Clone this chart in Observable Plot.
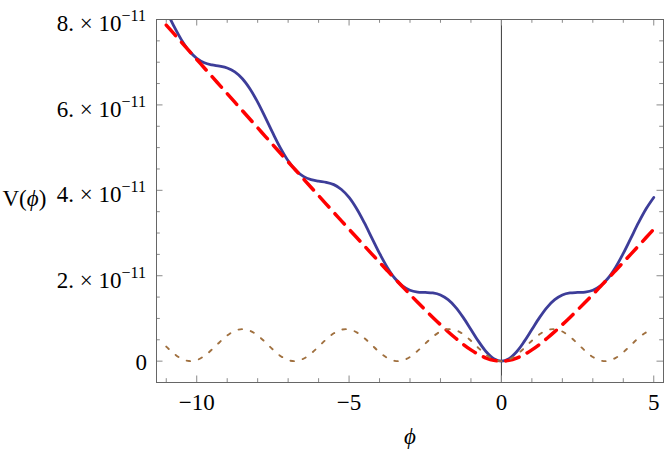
<!DOCTYPE html>
<html><head><meta charset="utf-8">
<script src="https://cdn.jsdelivr.net/npm/d3@7"></script>
<script src="https://cdn.jsdelivr.net/npm/@observablehq/plot@0.6"></script>
<style>body{margin:0;background:#fff} svg text{font-family:'Liberation Serif','Times New Roman',serif !important;}</style>
</head><body><div id="chart"></div>
<script>
// values in units of 1e-11
const phi = [-11,-10.75,-10.5,-10.25,-10,-9.75,-9.5,-9.25,-9,-8.75,-8.5,-8.25,-8,-7.75,-7.5,-7.25,-7,-6.75,-6.5,-6.25,-6,-5.75,-5.5,-5.25,-5,-4.75,-4.5,-4.25,-4,-3.75,-3.5,-3.25,-3,-2.75,-2.5,-2.25,-2,-1.75,-1.5,-1.25,-1,-0.75,-0.5,-0.25,0,0.25,0.5,0.75,1,1.25,1.5,1.75,2,2.25,2.5,2.75,3,3.25,3.5,3.75,4,4.25,4.5,4.75,5];
const vFull = [8.209,7.846,7.523,7.268,7.091,6.987,6.937,6.908,6.865,6.774,6.614,6.374,6.065,5.708,5.338,4.989,4.693,4.470,4.327,4.250,4.215,4.188,4.133,4.020,3.833,3.568,3.242,2.882,2.523,2.200,1.941,1.761,1.659,1.618,1.609,1.596,1.548,1.439,1.260,1.020,0.742,0.462,0.221,0.058,0,0.058,0.221,0.462,0.742,1.020,1.260,1.439,1.548,1.596,1.609,1.618,1.659,1.761,1.941,2.200,2.523,2.882,3.242,3.568,3.833];
const vLinear = [7.868,7.668,7.467,7.266,7.065,6.865,6.664,6.464,6.264,6.064,5.864,5.664,5.464,5.265,5.065,4.866,4.667,4.469,4.270,4.072,3.875,3.678,3.481,3.285,3.089,2.894,2.700,2.507,2.315,2.124,1.934,1.747,1.561,1.379,1.199,1.024,0.854,0.690,0.536,0.392,0.264,0.155,0.072,0.018,0,0.018,0.072,0.155,0.264,0.392,0.536,0.690,0.854,1.024,1.199,1.379,1.561,1.747,1.934,2.124,2.315,2.507,2.700,2.894,3.089];
const vMod = [0.340,0.178,0.056,0.002,0.025,0.122,0.272,0.444,0.601,0.711,0.750,0.711,0.601,0.444,0.272,0.122,0.025,0.002,0.056,0.178,0.340,0.510,0.652,0.736,0.744,0.674,0.542,0.375,0.208,0.076,0.006,0.014,0.098,0.240,0.410,0.572,0.694,0.748,0.725,0.628,0.478,0.306,0.149,0.039,0,0.039,0.149,0.306,0.478,0.628,0.725,0.748,0.694,0.572,0.410,0.240,0.098,0.014,0.006,0.076,0.208,0.375,0.542,0.674,0.744];

const xTicksMajor = [-10,-5,0,5];
const xTickLabels = ["\u221210","\u22125","0","5"];
const xTicksMinor = [-11,-9,-8,-7,-6,-4,-3,-2,-1,1,2,3,4];
const yTicksMajor = [0,2,4,6,8];
const yTickLabels = ["0","2. \u00d7 10^\u221211","4. \u00d7 10^\u221211","6. \u00d7 10^\u221211","8. \u00d7 10^\u221211"];
const yTicksMinor = [0.5,1,1.5,2.5,3,3.5,4.5,5,5.5,6.5,7,7.5];
const xTitle = "\u03d5";
const yTitle = "V(\u03d5)";

const rows = phi.map((p,i)=>({phi:p, full:vFull[i], lin:vLinear[i], mod:vMod[i]}));
const xLab = xTicksMajor.map((v,i)=>({v, label:xTickLabels[i]}));
const yLab = yTicksMajor.map((v,i)=>({v, label:yTickLabels[i]}));

const W=664, H=466, mL=156, mR=1, mT=19, mB=84;
const pw = W-mL-mR, ph = H-mT-mB;
const serif = "Liberation Serif";
const tickC = "#8a8a8a";
const majL = 6.5, minL = 3.8;
const T = {fontSize:23, fill:"#000", fontFamily:serif};

const chart = Plot.plot({
  width: W, height: H, marginLeft: mL, marginRight: mR, marginTop: mT, marginBottom: mB,
  style: "font-family:'Liberation Serif',serif;background:white;overflow:visible;color:#000",
  x: {domain: [-11.32, 5.32], axis: null},
  y: {domain: [-0.5, 8], axis: null},
  marks: [
    Plot.ruleX([0], {stroke:"#222", strokeWidth:0.9}),
    Plot.line(rows, {x:"phi", y:"full", stroke:"#3d3d99", strokeWidth:2.8, curve:"catmull-rom", clip:true}),
    Plot.line(rows, {x:"phi", y:"lin", stroke:"#ff0000", strokeWidth:3.5, strokeDasharray:"14,9", curve:"catmull-rom", clip:true}),
    Plot.line(rows, {x:"phi", y:"mod", stroke:"#a0703f", strokeWidth:1.9, strokeDasharray:"3.5,9", curve:"catmull-rom", clip:true}),
    // frame ticks (inward)
    Plot.tickX(xTicksMinor, {x:d=>d, insetTop: ph-minL, stroke:tickC}),
    Plot.tickX(xTicksMajor, {x:d=>d, insetTop: ph-majL, stroke:tickC}),
    Plot.tickX(xTicksMinor, {x:d=>d, insetBottom: ph-minL, stroke:tickC}),
    Plot.tickX(xTicksMajor, {x:d=>d, insetBottom: ph-majL, stroke:tickC}),
    Plot.tickY(yTicksMinor, {y:d=>d, insetRight: pw-minL, stroke:tickC}),
    Plot.tickY(yTicksMajor, {y:d=>d, insetRight: pw-majL, stroke:tickC}),
    Plot.tickY(yTicksMinor, {y:d=>d, insetLeft: pw-minL, stroke:tickC}),
    Plot.tickY(yTicksMajor, {y:d=>d, insetLeft: pw-majL, stroke:tickC}),
    Plot.frame({stroke:"#666"}),
    // tick labels
    Plot.text(xLab, {x:"v", text:"label", frameAnchor:"bottom", dy:27.5, ...T}),
    Plot.text(yLab.filter(d=>d.v!==0), {y:"v", text:"label", frameAnchor:"left", textAnchor:"end", dx:-10.5, dy:4.5, ...T}),
    Plot.text(yLab.filter(d=>d.v===0), {y:"v", text:"label", frameAnchor:"left", textAnchor:"end", dx:-9.5, dy:1.4, ...T}),
    // axis titles
    Plot.text([xTitle], {text:d=>d, frameAnchor:"bottom", dy:61, ...T}),
    Plot.text([yTitle], {text:d=>d, frameAnchor:"left", textAnchor:"start", dx:-154, dy:-2, ...T})
  ]
});

const NS = "http://www.w3.org/2000/svg";
chart.querySelectorAll("text").forEach(t => {
  const s = t.textContent;
  if (s.includes("^")) {
    const [base, exp] = s.split("^");
    t.textContent = base;
    const ts = document.createElementNS(NS, "tspan");
    ts.setAttribute("dy", "-10");
    ts.setAttribute("font-size", "16");
    ts.textContent = exp;
    t.appendChild(ts);
  } else if (s.includes("\u03d5")) {
    const parts = s.split("\u03d5");
    t.textContent = parts[0];
    const ts = document.createElementNS(NS, "tspan");
    ts.setAttribute("font-style", "italic");
    ts.textContent = "\u03d5";
    t.appendChild(ts);
    if (parts[1]) t.appendChild(document.createTextNode(parts[1]));
  }
});
document.getElementById("chart").appendChild(chart);
</script>
</body></html>
